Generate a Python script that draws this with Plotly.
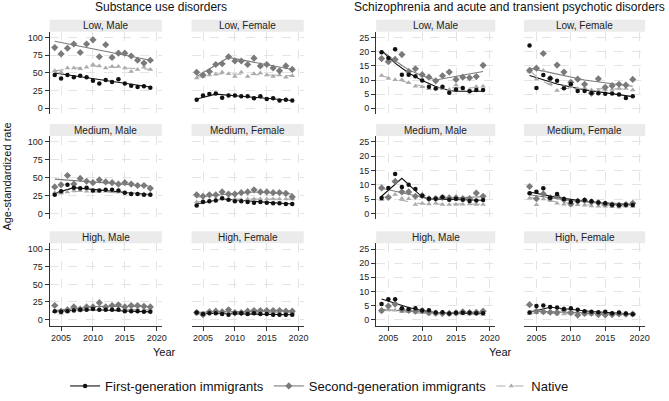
import plotly.graph_objects as go

YEARS = list(range(2004, 2020))

# ---------------- Substance use disorders ----------------
SUD_LOW_MALE_FIRST = [47, 42, 47, 44, 46, 44, 39, 35, 40, 37, 41, 35, 32, 30, 31, 29]
SUD_LOW_MALE_SECOND = [86, 77, 85, 91, 79, 91, 97, 73, 90, 72, 78, 78, 74, 68, 64, 68]
SUD_LOW_MALE_NATIVE = [53, 51, 57, 57, 56, 58, 62, 60, 57, 59, 59, 57, 52, 55, 58, 55]
SUD_LOW_MALE_FIT_FIRST = [(2004, 50), (2019, 30)]
SUD_LOW_MALE_FIT_SECOND = [(2004, 95), (2019, 68)]
SUD_LOW_MALE_FIT_NATIVE = [(2004, 53), (2010, 60), (2019, 55)]

SUD_LOW_FEMALE_FIRST = [12, 18, 20, 21, 15, 18, 18, 17, 17, 14, 17, 13, 14, 11, 12, 11]
SUD_LOW_FEMALE_SECOND = [51, 47, 52, 62, 63, 73, 67, 67, 62, 71, 60, 62, 57, 53, 60, 55]
SUD_LOW_FEMALE_NATIVE = [43, 45, 47, 48, 51, 49, 45, 51, 45, 49, 50, 47, 45, 47, 44, 46]
SUD_LOW_FEMALE_FIT_FIRST = [(2004, 13), (2007, 20), (2019, 11)]
SUD_LOW_FEMALE_FIT_SECOND = [(2004, 45), (2009, 72), (2019, 55)]
SUD_LOW_FEMALE_FIT_NATIVE = [(2004, 44), (2008, 49), (2019, 46)]

SUD_MED_MALE_FIRST = [26, 31, 40, 36, 35, 36, 32, 32, 33, 33, 32, 29, 27, 27, 26, 26]
SUD_MED_MALE_SECOND = [37, 40, 53, 41, 49, 45, 43, 47, 44, 43, 41, 43, 41, 39, 39, 35]
SUD_MED_MALE_NATIVE = [29, 28, 30, 32, 32, 31, 31, 31, 31, 31, 30, 29, 28, 27, 27, 27]
SUD_MED_MALE_FIT_FIRST = [(2004, 28), (2007, 36), (2019, 26)]
SUD_MED_MALE_FIT_SECOND = [(2004, 48), (2019, 38)]
SUD_MED_MALE_FIT_NATIVE = [(2004, 28), (2008, 31), (2019, 27)]

SUD_MED_FEMALE_FIRST = [11, 16, 17, 18, 21, 19, 17, 17, 16, 15, 16, 15, 14, 14, 13, 13]
SUD_MED_FEMALE_SECOND = [26, 24, 26, 26, 30, 27, 27, 29, 30, 33, 30, 30, 29, 29, 28, 23]
SUD_MED_FEMALE_NATIVE = [16, 18, 18, 19, 20, 19, 20, 19, 20, 20, 20, 20, 20, 20, 20, 20]
SUD_MED_FEMALE_FIT_FIRST = [(2004, 13), (2008, 20), (2019, 13)]
SUD_MED_FEMALE_FIT_SECOND = [(2004, 23), (2013, 30), (2019, 27)]
SUD_MED_FEMALE_FIT_NATIVE = [(2004, 16), (2008, 20), (2019, 20)]

SUD_HIGH_MALE_FIRST = [12, 11, 12, 13, 14, 14, 15, 14, 14, 14, 14, 12, 12, 12, 11, 11]
SUD_HIGH_MALE_SECOND = [20, 12, 14, 18, 15, 18, 18, 24, 18, 20, 21, 18, 20, 20, 19, 18]
SUD_HIGH_MALE_NATIVE = [11, 9, 12, 14, 13, 14, 15, 15, 15, 15, 15, 15, 15, 15, 14, 14]
SUD_HIGH_MALE_FIT_FIRST = [(2004, 12), (2010, 14), (2019, 11)]
SUD_HIGH_MALE_FIT_SECOND = [(2004, 13), (2011, 19), (2019, 18.5)]
SUD_HIGH_MALE_FIT_NATIVE = [(2004, 10.5), (2009, 14.5), (2019, 14)]

SUD_HIGH_FEMALE_FIRST = [10, 8, 9, 9, 8, 7, 9, 9, 8, 9, 8, 8, 7, 7, 7, 7]
SUD_HIGH_FEMALE_SECOND = [10, 7, 11, 12, 11, 14, 10, 10, 12, 13, 13, 13, 13, 13, 12, 12]
SUD_HIGH_FEMALE_NATIVE = [9, 7, 10, 10, 10, 10, 10, 10, 10, 11, 10, 10, 10, 10, 10, 10]
SUD_HIGH_FEMALE_FIT_FIRST = [(2004, 9), (2019, 7)]
SUD_HIGH_FEMALE_FIT_SECOND = [(2004, 10.5), (2019, 12.5)]
SUD_HIGH_FEMALE_FIT_NATIVE = [(2004, 8.5), (2007, 10), (2019, 10)]

# ---------------- Schizophrenia ----------------
SCZ_LOW_MALE_FIRST = [19.8, 17.8, 20.9, 11.9, 11.9, 11.3, 9.8, 7.6, 7.0, 7.6, 5.5, 6.6, 7.2, 6.0, 6.5, 6.5]
SCZ_LOW_MALE_SECOND = [17.6, 16.5, 17.3, 19.0, 13.0, 14.0, 11.9, 11.0, 9.7, 11.5, 12.8, 10.2, 11.0, 10.8, 11.2, 15.2]
SCZ_LOW_MALE_NATIVE = [11.6, 10.5, 10.1, 10.1, 9.0, 7.8, 7.6, 6.9, 6.9, 6.9, 6.6, 8.2, 6.6, 6.6, 7.6, 7.8]
SCZ_LOW_MALE_FIT_FIRST = [(2004, 20.3), (2006, 16.0), (2008, 12.5), (2010, 9.8), (2012, 7.7), (2014, 6.3), (2015, 6.0), (2019, 6.0)]
SCZ_LOW_MALE_FIT_SECOND = [(2004, 20.5), (2006, 16.8), (2008, 13.6), (2010, 11.5), (2012, 10.0), (2019, 13.0)]
SCZ_LOW_MALE_FIT_NATIVE = [(2004, 11.5), (2008, 9.0), (2011, 7.2), (2019, 7.3)]

SCZ_LOW_FEMALE_FIRST = [22.2, 7.2, 11.8, 10.6, 9.7, 7.1, 8.5, 6.1, 6.1, 5.4, 5.3, 5.1, 5.2, 4.9, 3.6, 4.2]
SCZ_LOW_FEMALE_SECOND = [13.4, 14.2, 19.4, 10.5, 15.3, 12.8, 9.2, 10.3, 8.5, 5.3, 10.4, 7.4, 8.0, 8.5, 8.2, 10.2]
SCZ_LOW_FEMALE_NATIVE = [13.0, 10.3, 13.4, 8.7, 6.3, 7.5, 7.6, 6.9, 7.2, 6.5, 6.3, 6.6, 6.6, 7.0, 7.0, 6.5]
SCZ_LOW_FEMALE_FIT_FIRST = [(2004, 11.6), (2008, 8.6), (2012, 6.5), (2016, 5.0), (2019, 4.1)]
SCZ_LOW_FEMALE_FIT_SECOND = [(2004, 14.2), (2008, 12.0), (2012, 10.0), (2016, 8.7), (2019, 7.8)]
SCZ_LOW_FEMALE_FIT_NATIVE = [(2004, 13.2), (2006, 9.5), (2008, 7.0), (2019, 6.8)]

SCZ_MED_MALE_FIRST = [5.4, 8.9, 13.8, 9.2, 10.0, 8.5, 6.2, 5.1, 5.1, 5.6, 4.8, 5.1, 4.8, 4.3, 4.5, 4.7]
SCZ_MED_MALE_SECOND = [8.9, 5.6, 11.2, 7.5, 7.5, 6.0, 6.2, 5.1, 5.2, 5.6, 5.4, 5.4, 5.2, 5.2, 7.1, 6.0]
SCZ_MED_MALE_NATIVE = [4.8, 5.4, 6.6, 5.2, 5.1, 3.1, 3.5, 3.3, 3.5, 3.1, 3.1, 3.1, 3.2, 3.3, 3.1, 3.1]
SCZ_MED_MALE_FIT_FIRST = [(2004, 6.0), (2007, 12.3), (2010, 5.7), (2011, 5.0), (2019, 4.6)]
SCZ_MED_MALE_FIT_SECOND = [(2004, 8.8), (2011, 5.1), (2019, 5.8)]
SCZ_MED_MALE_FIT_NATIVE = [(2004, 5.8), (2010, 3.3), (2019, 3.2)]

SCZ_MED_FEMALE_FIRST = [7.0, 7.6, 8.8, 5.5, 6.8, 5.0, 4.0, 4.3, 4.7, 4.2, 3.8, 3.5, 3.0, 2.8, 3.0, 2.9]
SCZ_MED_FEMALE_SECOND = [9.4, 5.1, 6.8, 5.4, 6.0, 4.8, 3.3, 4.3, 4.5, 4.0, 3.7, 3.3, 3.0, 2.9, 3.1, 3.5]
SCZ_MED_FEMALE_NATIVE = [5.3, 3.0, 5.0, 4.5, 3.5, 3.2, 2.9, 3.0, 2.8, 2.6, 2.5, 2.5, 2.3, 2.2, 2.5, 2.4]
SCZ_MED_FEMALE_FIT_FIRST = [(2004, 7.5), (2008, 5.6), (2012, 4.2), (2016, 3.3), (2019, 2.9)]
SCZ_MED_FEMALE_FIT_SECOND = [(2004, 6.5), (2010, 4.4), (2019, 3.2)]
SCZ_MED_FEMALE_FIT_NATIVE = [(2004, 5.6), (2008, 4.0), (2012, 3.0), (2019, 2.4)]

SCZ_HIGH_MALE_FIRST = [5.5, 7.2, 7.2, 4.0, 3.8, 4.0, 3.2, 3.3, 2.5, 2.6, 2.2, 2.4, 2.4, 2.4, 2.3, 2.3]
SCZ_HIGH_MALE_SECOND = [3.2, 4.8, 5.5, 3.6, 3.3, 3.0, 3.2, 2.5, 2.3, 2.2, 2.2, 2.4, 2.8, 2.5, 2.6, 3.0]
SCZ_HIGH_MALE_NATIVE = [3.0, 3.5, 3.3, 2.8, 2.8, 2.6, 2.5, 2.0, 2.0, 2.1, 2.0, 2.0, 2.0, 2.0, 2.0, 1.8]
SCZ_HIGH_MALE_FIT_FIRST = [(2004, 7.3), (2006, 5.8), (2008, 4.3), (2010, 3.2), (2012, 2.5), (2014, 2.2), (2019, 2.3)]
SCZ_HIGH_MALE_FIT_SECOND = [(2004, 3.6), (2012, 2.4), (2019, 2.6)]
SCZ_HIGH_MALE_FIT_NATIVE = [(2004, 3.3), (2011, 2.1), (2019, 1.9)]

SCZ_HIGH_FEMALE_FIRST = [2.5, 4.8, 5.0, 4.5, 4.3, 3.8, 4.0, 3.5, 3.0, 2.8, 2.6, 2.8, 2.3, 2.5, 2.2, 1.9]
SCZ_HIGH_FEMALE_SECOND = [5.3, 3.0, 2.8, 2.6, 2.5, 3.5, 2.5, 1.6, 2.2, 2.3, 1.8, 1.7, 1.8, 2.0, 1.9, 2.0]
SCZ_HIGH_FEMALE_NATIVE = [2.1, 2.4, 2.5, 2.4, 2.0, 2.0, 2.1, 1.8, 1.9, 1.9, 1.8, 1.9, 1.8, 1.8, 1.8, 1.8]
SCZ_HIGH_FEMALE_FIT_FIRST = [(2004, 2.6), (2007, 4.4), (2013, 2.9), (2019, 2.0)]
SCZ_HIGH_FEMALE_FIT_SECOND = [(2004, 3.0), (2019, 1.9)]
SCZ_HIGH_FEMALE_FIT_NATIVE = [(2004, 2.3), (2019, 1.8)]

PANEL_LABELS = ["Low, Male", "Low, Female", "Medium, Male", "Medium, Female", "High, Male", "High, Female"]
SERIES_NAMES = ["First-generation immigrants", "Second-generation immigrants", "Native"]
GROUP_TITLES = ["Substance use disorders", "Schizophrenia and acute and transient psychotic disorders"]
SUD_TICKS = [0, 25, 50, 75, 100]
SCZ_TICKS = [0, 5, 10, 15, 20, 25]
X_TICKS = [2005, 2010, 2015, 2020]

# (row, col, label, first, second, native, fit_first, fit_second, fit_native)
panels = [
    (0, 0, PANEL_LABELS[0], SUD_LOW_MALE_FIRST, SUD_LOW_MALE_SECOND, SUD_LOW_MALE_NATIVE, SUD_LOW_MALE_FIT_FIRST, SUD_LOW_MALE_FIT_SECOND, SUD_LOW_MALE_FIT_NATIVE),
    (0, 1, PANEL_LABELS[1], SUD_LOW_FEMALE_FIRST, SUD_LOW_FEMALE_SECOND, SUD_LOW_FEMALE_NATIVE, SUD_LOW_FEMALE_FIT_FIRST, SUD_LOW_FEMALE_FIT_SECOND, SUD_LOW_FEMALE_FIT_NATIVE),
    (1, 0, PANEL_LABELS[2], SUD_MED_MALE_FIRST, SUD_MED_MALE_SECOND, SUD_MED_MALE_NATIVE, SUD_MED_MALE_FIT_FIRST, SUD_MED_MALE_FIT_SECOND, SUD_MED_MALE_FIT_NATIVE),
    (1, 1, PANEL_LABELS[3], SUD_MED_FEMALE_FIRST, SUD_MED_FEMALE_SECOND, SUD_MED_FEMALE_NATIVE, SUD_MED_FEMALE_FIT_FIRST, SUD_MED_FEMALE_FIT_SECOND, SUD_MED_FEMALE_FIT_NATIVE),
    (2, 0, PANEL_LABELS[4], SUD_HIGH_MALE_FIRST, SUD_HIGH_MALE_SECOND, SUD_HIGH_MALE_NATIVE, SUD_HIGH_MALE_FIT_FIRST, SUD_HIGH_MALE_FIT_SECOND, SUD_HIGH_MALE_FIT_NATIVE),
    (2, 1, PANEL_LABELS[5], SUD_HIGH_FEMALE_FIRST, SUD_HIGH_FEMALE_SECOND, SUD_HIGH_FEMALE_NATIVE, SUD_HIGH_FEMALE_FIT_FIRST, SUD_HIGH_FEMALE_FIT_SECOND, SUD_HIGH_FEMALE_FIT_NATIVE),
    (0, 2, PANEL_LABELS[0], SCZ_LOW_MALE_FIRST, SCZ_LOW_MALE_SECOND, SCZ_LOW_MALE_NATIVE, SCZ_LOW_MALE_FIT_FIRST, SCZ_LOW_MALE_FIT_SECOND, SCZ_LOW_MALE_FIT_NATIVE),
    (0, 3, PANEL_LABELS[1], SCZ_LOW_FEMALE_FIRST, SCZ_LOW_FEMALE_SECOND, SCZ_LOW_FEMALE_NATIVE, SCZ_LOW_FEMALE_FIT_FIRST, SCZ_LOW_FEMALE_FIT_SECOND, SCZ_LOW_FEMALE_FIT_NATIVE),
    (1, 2, PANEL_LABELS[2], SCZ_MED_MALE_FIRST, SCZ_MED_MALE_SECOND, SCZ_MED_MALE_NATIVE, SCZ_MED_MALE_FIT_FIRST, SCZ_MED_MALE_FIT_SECOND, SCZ_MED_MALE_FIT_NATIVE),
    (1, 3, PANEL_LABELS[3], SCZ_MED_FEMALE_FIRST, SCZ_MED_FEMALE_SECOND, SCZ_MED_FEMALE_NATIVE, SCZ_MED_FEMALE_FIT_FIRST, SCZ_MED_FEMALE_FIT_SECOND, SCZ_MED_FEMALE_FIT_NATIVE),
    (2, 2, PANEL_LABELS[4], SCZ_HIGH_MALE_FIRST, SCZ_HIGH_MALE_SECOND, SCZ_HIGH_MALE_NATIVE, SCZ_HIGH_MALE_FIT_FIRST, SCZ_HIGH_MALE_FIT_SECOND, SCZ_HIGH_MALE_FIT_NATIVE),
    (2, 3, PANEL_LABELS[5], SCZ_HIGH_FEMALE_FIRST, SCZ_HIGH_FEMALE_SECOND, SCZ_HIGH_FEMALE_NATIVE, SCZ_HIGH_FEMALE_FIT_FIRST, SCZ_HIGH_FEMALE_FIT_SECOND, SCZ_HIGH_FEMALE_FIT_NATIVE),
]

W, H = 669, 401
FONT = "Liberation Sans, Arial, sans-serif"
COL_PX = [(50, 163), (193, 306), (379, 499), (528, 650)]
ROW_PX = [(32, 115), (137, 221), (245, 328)]
STRIP_H = 12

C_FIRST = "#111111"
C_SECOND = "#7a7a7a"
C_NATIVE = "#ababab"
MARKERS = [
    dict(symbol="circle", size=4.5, color=C_FIRST),
    dict(symbol="diamond", size=5.5, color=C_SECOND),
    dict(symbol="triangle-up", size=5, color=C_NATIVE),
]
LINES = [
    dict(color=C_FIRST, width=1.1),
    dict(color=C_SECOND, width=1.1),
    dict(color=C_NATIVE, width=1.1, dash="dash"),
]

def px_x(p):
    return p / W

def px_y(p):
    return 1 - p / H

fig = go.Figure()
layout = {}
shapes = []
annotations = []

for i, (r, c, label, s1, s2, s3, f1, f2, f3) in enumerate(panels):
    k = i + 1
    xn = "x" if k == 1 else f"x{k}"
    yn = "y" if k == 1 else f"y{k}"
    xkey = "xaxis" if k == 1 else f"xaxis{k}"
    ykey = "yaxis" if k == 1 else f"yaxis{k}"
    is_sud = c < 2
    x0, x1 = COL_PX[c]
    y0, y1 = ROW_PX[r]
    bottom = r == 2
    leftmost = c in (0, 2)

    layout[xkey] = dict(
        domain=[px_x(x0), px_x(x1)], anchor=yn, range=[2003.2, 2020.8],
        tickvals=X_TICKS, showticklabels=bottom, ticks="outside" if bottom else "",
        ticklen=4, tickcolor="#333", showline=bottom, linecolor="#333", linewidth=1,
        showgrid=True, gridcolor="#e4e4e4", griddash="dash", gridwidth=1,
        zeroline=False, tickfont=dict(size=9, color="#222", family=FONT), fixedrange=True,
    )
    layout[ykey] = dict(
        domain=[px_y(y1), px_y(y0)], anchor=xn,
        range=[-8.4, 108.4] if is_sud else [-2.1, 27.1],
        tickvals=SUD_TICKS if is_sud else SCZ_TICKS,
        showticklabels=leftmost, ticks="outside" if leftmost else "",
        ticklen=4, tickcolor="#333", showline=leftmost, linecolor="#333", linewidth=1,
        showgrid=True, gridcolor="#e4e4e4", griddash="dash", gridwidth=1,
        zeroline=False, tickfont=dict(size=9, color="#222", family=FONT), fixedrange=True,
    )

    # strip
    shapes.append(dict(type="rect", xref="paper", yref="paper",
                       x0=px_x(x0), x1=px_x(x1), y0=px_y(y0), y1=px_y(y0 - STRIP_H),
                       fillcolor="#ebebeb", line=dict(width=0), layer="below"))
    annotations.append(dict(text=label, xref="paper", yref="paper",
                            x=px_x((x0 + x1) / 2), y=px_y(y0 - STRIP_H / 2),
                            xanchor="center", yanchor="middle", showarrow=False,
                            font=dict(size=10, color="#222", family=FONT)))

    # fitted lines (drawn first, below markers)
    for j, fit in enumerate([f1, f2, f3]):
        fig.add_trace(go.Scatter(x=[p[0] for p in fit], y=[p[1] for p in fit],
                                 mode="lines", line=LINES[j], xaxis=xn, yaxis=yn,
                                 showlegend=False, hoverinfo="skip"))
    # observed points (native drawn first so black stays on top)
    for j, series in [(2, s3), (1, s2), (0, s1)]:
        fig.add_trace(go.Scatter(x=YEARS, y=series, mode="markers",
                                 marker=MARKERS[j], xaxis=xn, yaxis=yn,
                                 showlegend=False, name=SERIES_NAMES[j]))

# legend entries
for j in range(3):
    fig.add_trace(go.Scatter(x=[None], y=[None], mode="lines+markers",
                             marker=MARKERS[j], line=LINES[j], name=SERIES_NAMES[j],
                             xaxis="x", yaxis="y", showlegend=True))

# group titles
annotations.append(dict(text=GROUP_TITLES[0], xref="paper", yref="paper",
                        x=px_x(162), y=px_y(7), xanchor="center", yanchor="middle",
                        showarrow=False, font=dict(size=12, color="#111", family=FONT)))
annotations.append(dict(text=GROUP_TITLES[1], xref="paper", yref="paper",
                        x=px_x(513), y=px_y(7), xanchor="center", yanchor="middle",
                        showarrow=False, font=dict(size=12, color="#111", family=FONT)))
# axis titles
annotations.append(dict(text="Age-standardized rate", xref="paper", yref="paper",
                        x=px_x(7), y=px_y(178), xanchor="center", yanchor="middle",
                        textangle=-90, showarrow=False,
                        font=dict(size=11, color="#111", family=FONT)))
for xc in (166, 504):
    annotations.append(dict(text="Year", xref="paper", yref="paper",
                            x=px_x(xc), y=px_y(355), xanchor="center", yanchor="middle",
                            showarrow=False, font=dict(size=11, color="#111", family=FONT)))

fig.update_layout(
    width=W, height=H, margin=dict(l=0, r=0, t=0, b=0),
    paper_bgcolor="white", plot_bgcolor="white",
    font=dict(family=FONT, color="#111"),
    shapes=shapes, annotations=annotations,
    showlegend=True,
    legend=dict(orientation="h", x=px_x(322), xanchor="center", y=px_y(389), yanchor="middle",
                font=dict(size=13, family=FONT, color="#111"), bgcolor="rgba(0,0,0,0)",
                itemwidth=30),
    **layout,
)

fig.write_html("out.html")
